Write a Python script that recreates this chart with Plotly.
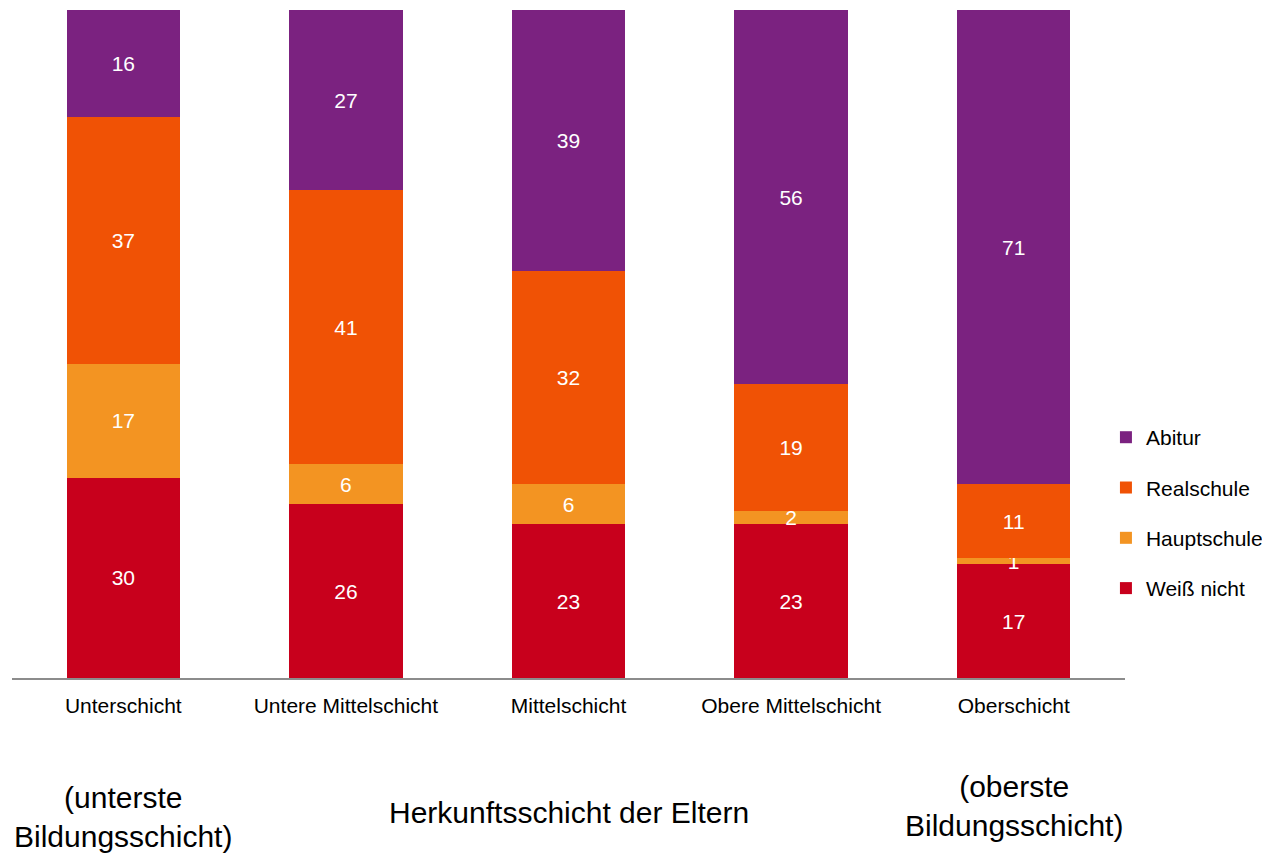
import plotly.graph_objects as go

categories = ["Unterschicht", "Untere Mittelschicht", "Mittelschicht", "Obere Mittelschicht", "Oberschicht"]
weiss_nicht = [30, 26, 23, 23, 17]
hauptschule = [17, 6, 6, 2, 1]
realschule = [37, 41, 32, 19, 11]
abitur = [16, 27, 39, 56, 71]

series = [
    ("Weiß nicht", weiss_nicht, "#C8001C", 4),
    ("Hauptschule", hauptschule, "#F39422", 3),
    ("Realschule", realschule, "#F05205", 2),
    ("Abitur", abitur, "#7B2280", 1),
]

FONT = "Liberation Sans, Arial, sans-serif"

fig = go.Figure()
for name, vals, col, rank in series:
    fig.add_trace(go.Bar(
        x=categories, y=vals, name=name, legendgroup=name, legendrank=rank,
        marker=dict(color=col, line=dict(width=0)),
        text=[str(v) for v in vals], textposition="inside",
        insidetextanchor="middle", constraintext="none", textangle=0,
        textfont=dict(color="white", size=21, family=FONT),
        cliponaxis=False,
    ))

fig.update_layout(
    barmode="stack",
    bargap=0.49,
    width=1262, height=846,
    margin=dict(l=4, r=145, t=2, b=176, autoexpand=False),
    plot_bgcolor="white", paper_bgcolor="white",
    font=dict(family=FONT, size=21, color="black"),
    showlegend=True,
    legend=dict(
        xref="container", yref="container",
        x=0.870, xanchor="left", y=0.403, yanchor="middle",
        traceorder="grouped", tracegroupgap=20,
        font=dict(size=21, family=FONT, color="black"),
        itemwidth=30,
    ),
    xaxis=dict(
        showline=True, linecolor="#8c8c8c", linewidth=2,
        ticks="outside", ticklen=8, tickcolor="rgba(0,0,0,0)",
        tickfont=dict(size=21, family=FONT, color="black"),
        showgrid=False, automargin=False,
    ),
    yaxis=dict(range=[0, 100], visible=False, showgrid=False, automargin=False),
    annotations=[
        dict(text="(unterste<br>Bildungsschicht)", x=0, xref="x", y=-0.208, yref="paper",
             yanchor="middle", showarrow=False, font=dict(size=30, family=FONT, color="black")),
        dict(text="Herkunftsschicht der Eltern", x=2, xref="x", y=-0.202, yref="paper",
             yanchor="middle", showarrow=False, font=dict(size=30, family=FONT, color="black")),
        dict(text="(oberste<br>Bildungsschicht)", x=4, xref="x", y=-0.192, yref="paper",
             yanchor="middle", showarrow=False, font=dict(size=30, family=FONT, color="black")),
    ],
)

fig.write_html("out.html")
